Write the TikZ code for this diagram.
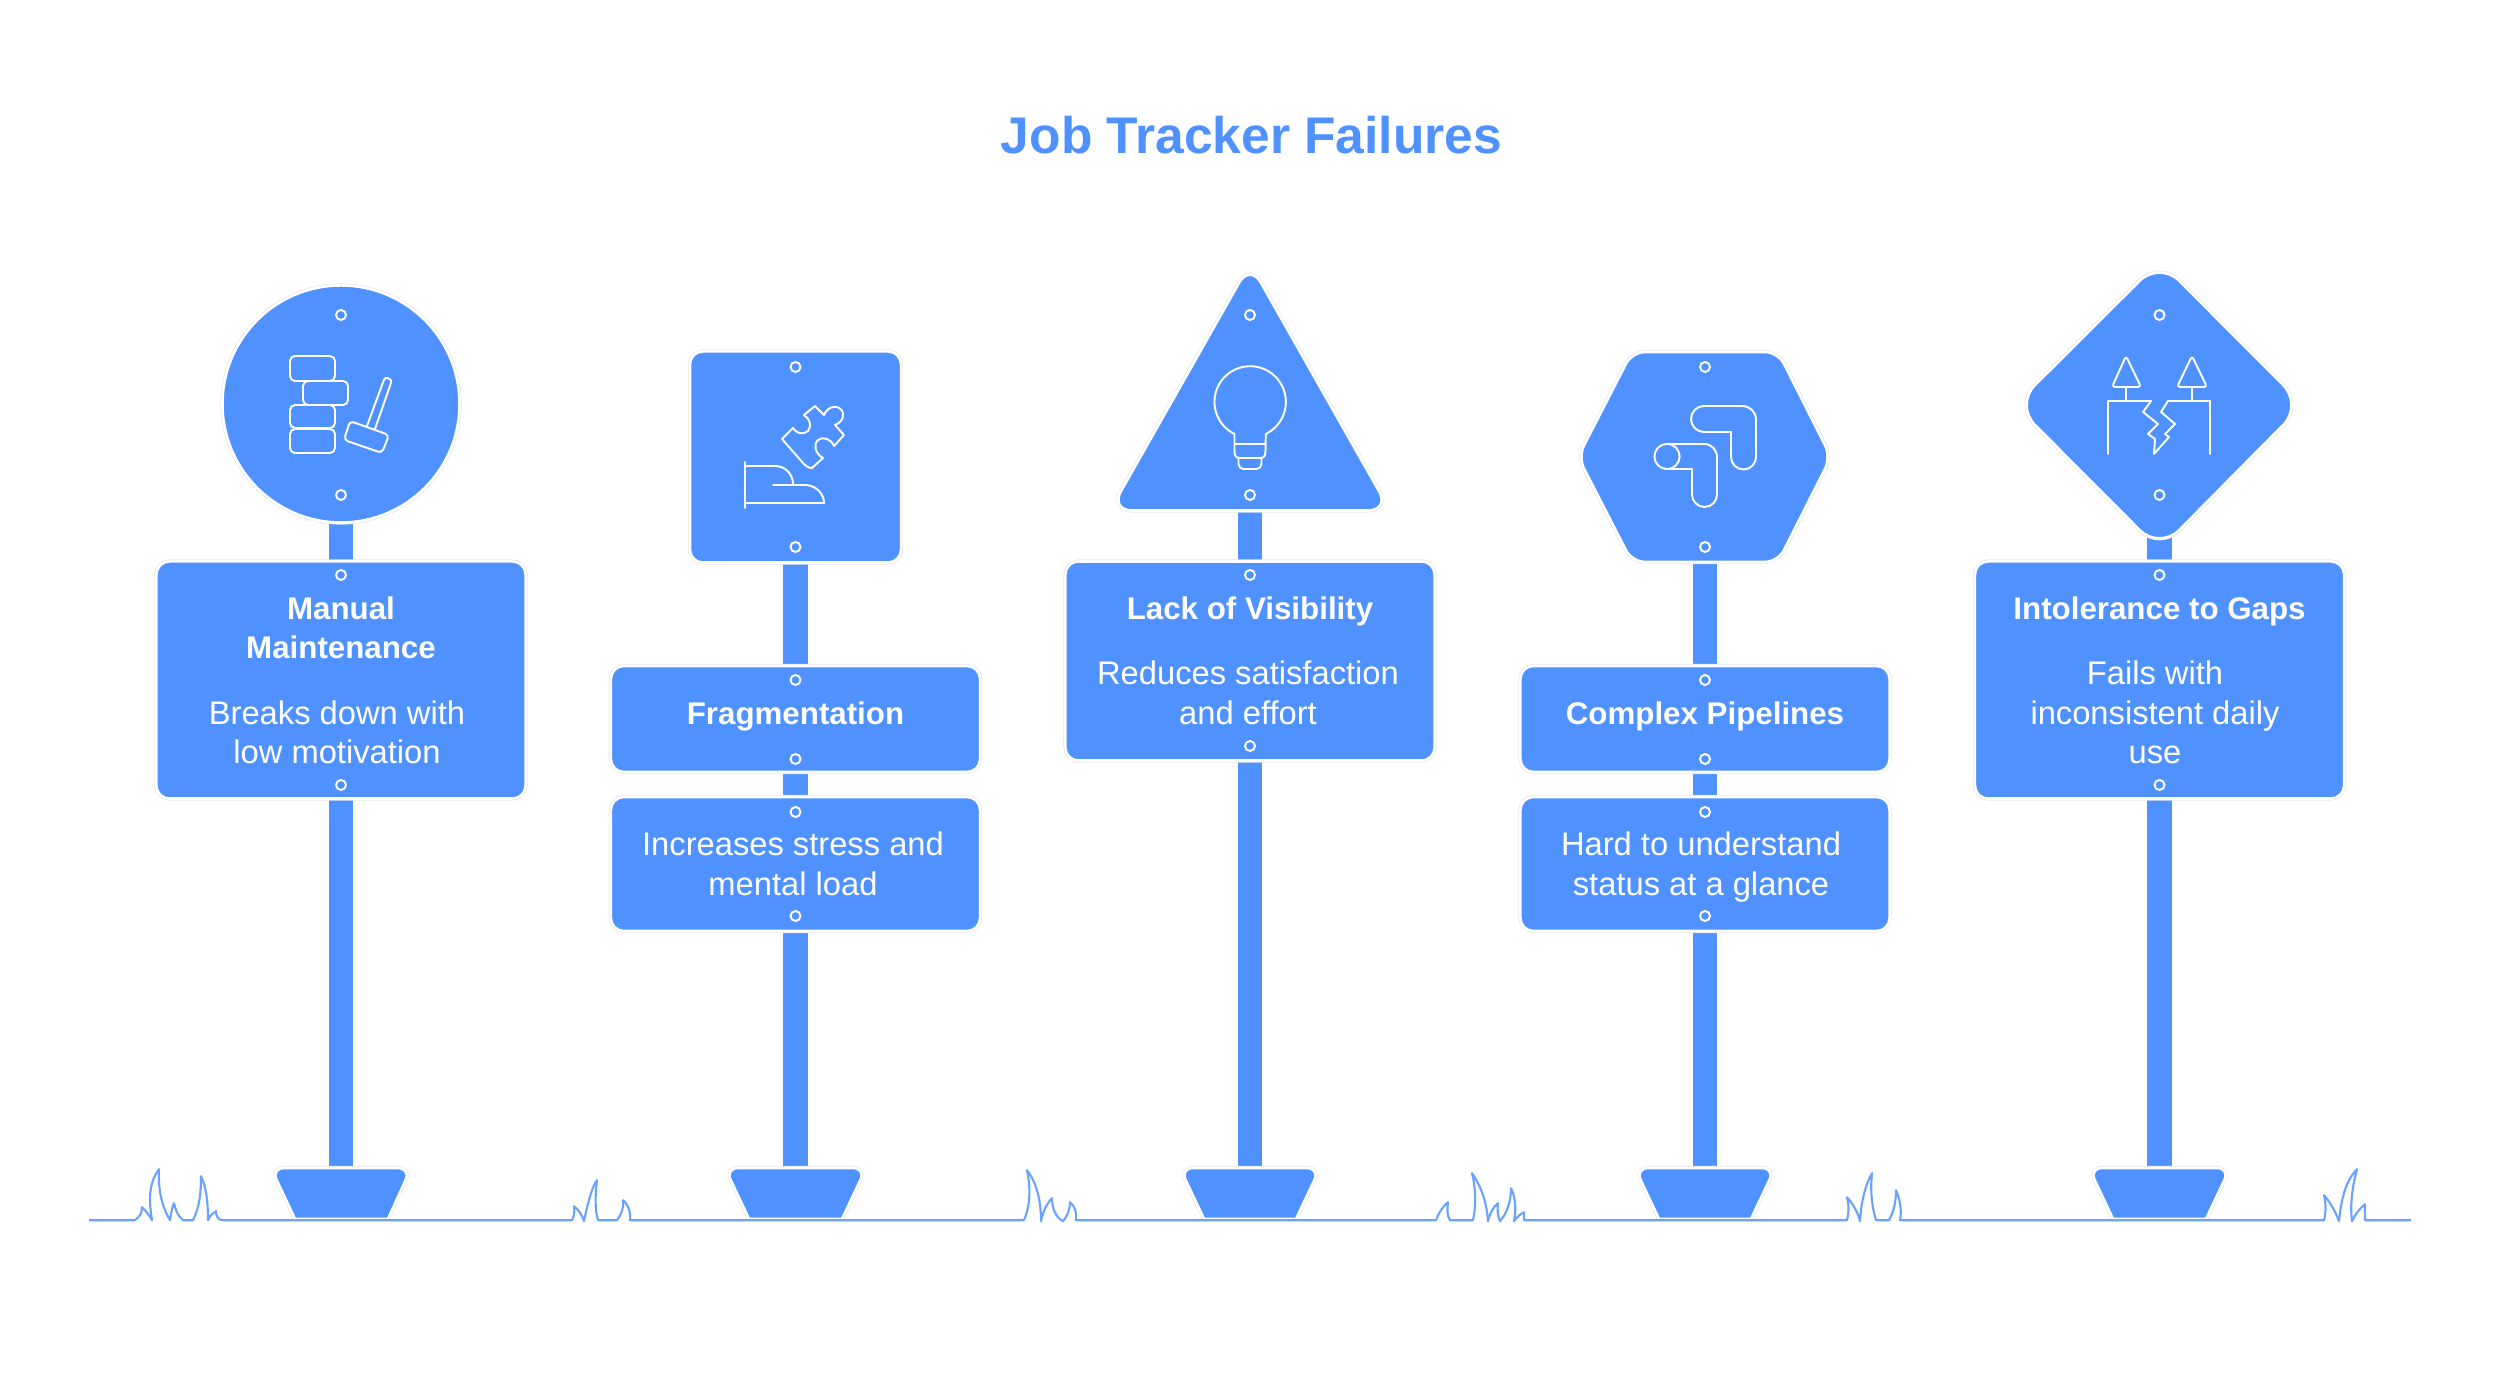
\documentclass[tikz,border=0pt]{standalone}
\usepackage{tkz-euclide}
\usepackage{tikz}
\usepackage{fontspec}
\setmainfont{Liberation Sans}
\definecolor{signblue}{HTML}{4F92FF}
\definecolor{signedge}{HTML}{E4E7EB}
\tikzset{
  sign/.style={fill=signblue,draw=white,line width=0.75pt,rounded corners=0.13cm,
    preaction={draw=signedge,line width=1.15pt}},
  panel/.style={sign,rectangle,inner sep=0pt,outer sep=0pt,minimum width=3.69cm},
  postline/.style={draw=white,line width=0.6pt,double=signblue,double distance=0.245cm,
    preaction={draw=signedge,line width=8.1pt}},
  hole/.style={circle,draw=white,fill=signblue,line width=0.55pt,inner sep=0pt,minimum size=0.1cm},
  icon/.style={draw=white,line width=0.55pt,line join=round,line cap=round},
  ground/.style={draw=signblue!85!white,line width=0.6pt,line join=round},
  headtext/.style={text=white,anchor=base,align=center,font=\bfseries\fontsize{8.9}{11.24}\selectfont},
  bodytext/.style={text=white,anchor=base,align=center,font=\fontsize{9.3}{11.24}\selectfont}
}
\begin{document}
\begin{tikzpicture}[x=0.01cm,y=-0.01cm]
    \useasboundingbox (0,0) rectangle (2500,1377);
    \tkzDefPoints{341/404/PA,341/1168/QA,795.5/456/PB,795.5/1168/QB,1250/420/PC,1250/1168/QC,1705/456/PD,1705/1168/QD,2159.5/404/PE,2159.5/1168/QE}
    \tkzDefPoints{1250/263.5/Ta,1110/510.5/Tb,1390/510.5/Tc}
    \tkzDefPoints{1632/352/Ha,1778/352/Hb,1831/457/Hc,1778/562/Hd,1632/562/He,1578/457/Hf}
    \tkzDefPoints{2159.5/261/Da,2303/405/Db,2159.5/550/Dc,2015/405/Dd}

    \node[text=signblue,anchor=base,font=\bfseries\fontsize{14.65}{18}\selectfont] (title) at (1251.5,154) {Job Tracker Failures};

    \tkzDrawSegments[postline](PA,QA PB,QB PC,QC PD,QD PE,QE)

    \draw[sign,rounded corners=0pt] (295,1219) [rounded corners=0.13cm] -- (271,1168) -- (411,1168) [rounded corners=0pt] -- (388,1219) -- cycle;
    \draw[sign,rounded corners=0pt] (749,1219) [rounded corners=0.13cm] -- (725,1168) -- (866,1168) [rounded corners=0pt] -- (842,1219) -- cycle;
    \draw[sign,rounded corners=0pt] (1204,1219) [rounded corners=0.13cm] -- (1180,1168) -- (1320,1168) [rounded corners=0pt] -- (1296,1219) -- cycle;
    \draw[sign,rounded corners=0pt] (1659,1219) [rounded corners=0.13cm] -- (1635,1168) -- (1775,1168) [rounded corners=0pt] -- (1751,1219) -- cycle;
    \draw[sign,rounded corners=0pt] (2113,1219) [rounded corners=0.13cm] -- (2089,1168) -- (2230,1168) [rounded corners=0pt] -- (2206,1219) -- cycle;

    \draw[ground,yshift=-0.012cm] (89,1219) -- (135,1219) .. controls (140,1215) and (142,1212) .. (142,1206)
      .. controls (146,1210) and (150,1215) .. (152,1219) .. controls (148,1195) and (150,1180) .. (159,1168)
      .. controls (158,1190) and (162,1205) .. (170,1219) .. controls (171,1212) and (172,1206) .. (174,1202)
      .. controls (176,1210) and (178,1215) .. (183,1219) -- (193,1219) .. controls (200,1205) and (201,1190) .. (201,1175)
      .. controls (206,1185) and (208,1200) .. (208,1219) .. controls (210,1214) and (213,1212) .. (216,1210)
      .. controls (216,1215) and (218,1219) .. (223,1219) -- (572,1219) .. controls (574,1215) and (575,1210) .. (574,1205)
      .. controls (579,1209) and (582,1214) .. (584,1220) .. controls (587,1205) and (592,1185) .. (597,1179)
      .. controls (595,1195) and (595,1210) .. (598,1219) -- (617,1219) .. controls (622,1212) and (624,1206) .. (623,1199)
      .. controls (629,1204) and (631,1212) .. (630,1219) -- (1024,1219) .. controls (1030,1205) and (1031,1188) .. (1027,1169)
      .. controls (1037,1182) and (1041,1200) .. (1041,1220) .. controls (1043,1210) and (1047,1202) .. (1052,1197)
      .. controls (1052,1208) and (1056,1216) .. (1063,1220) .. controls (1067,1216) and (1070,1208) .. (1070,1201)
      .. controls (1075,1205) and (1077,1212) .. (1076,1219) -- (1436,1219) .. controls (1439,1211) and (1443,1205) .. (1448,1201)
      .. controls (1447,1208) and (1447,1215) .. (1450,1219) -- (1473,1219) .. controls (1476,1205) and (1476,1188) .. (1472,1172)
      .. controls (1483,1188) and (1487,1205) .. (1488,1220) .. controls (1490,1212) and (1493,1206) .. (1498,1202)
      .. controls (1497,1210) and (1498,1216) .. (1500,1220) .. controls (1507,1212) and (1511,1200) .. (1511,1187)
      .. controls (1516,1197) and (1516,1210) .. (1514,1220) .. controls (1517,1216) and (1520,1213) .. (1524,1211)
      -- (1524,1219) -- (1847,1219) .. controls (1849,1212) and (1849,1204) .. (1847,1196)
      .. controls (1854,1204) and (1858,1212) .. (1860,1220) .. controls (1861,1202) and (1865,1184) .. (1872,1172)
      .. controls (1870,1190) and (1872,1206) .. (1876,1219) -- (1889,1219) .. controls (1894,1210) and (1896,1200) .. (1896,1189)
      .. controls (1900,1198) and (1902,1210) .. (1900,1219) -- (2324,1219) .. controls (2326,1212) and (2326,1202) .. (2324,1194)
      .. controls (2331,1202) and (2336,1212) .. (2339,1220) .. controls (2341,1200) and (2345,1180) .. (2357,1168)
      .. controls (2352,1186) and (2350,1205) .. (2352,1220) .. controls (2355,1213) and (2360,1207) .. (2365,1203)
      -- (2365,1219) -- (2411,1219);

    \node[sign,circle,inner sep=0pt,minimum size=2.37cm] (circlesign) at (341,404) {};
    \node[panel,minimum height=2.37cm] (manualpanel) at (341,680) {};
    \node[headtext] (manualhead) at (341,659) {Manual\\Maintenance};
    \node[bodytext] (manualbody) at (337,764) {Breaks down with\\low motivation};
    \node[hole] (hA1) at (341,315) {}; \node[hole] (hA2) at (341,495) {};
    \node[hole] (hA3) at (341,575) {}; \node[hole] (hA4) at (341,785) {};
    \draw[icon,rounded corners=0.05cm] (290,356) rectangle (335,381);
    \draw[icon,rounded corners=0.05cm] (303,381) rectangle (348,405);
    \draw[icon,rounded corners=0.05cm] (290,405) rectangle (335,428);
    \draw[icon,rounded corners=0.05cm] (290,429) rectangle (335,453);
    \draw[icon,rounded corners=0.04cm] (350,421) -- (389,435) -- (382,453) -- (344,440) -- cycle;
    \draw[icon,rounded corners=0.03cm] (367,426) -- (385,377) -- (392,380) -- (375,429);

    \node[sign,rectangle,inner sep=0pt,minimum width=2.11cm,minimum height=2.11cm] (squaresign) at (795.5,457) {};
    \node[panel,minimum height=1.06cm] (fraghead) at (795.5,719) {};
    \node[panel,minimum height=1.34cm] (fragbody) at (795.5,864) {};
    \node[headtext] (fragtitle) at (795.5,724.5) {Fragmentation};
    \node[bodytext] (fragtext) at (793,895.5) {Increases stress and\\mental load};
    \node[hole] (hB1) at (795.5,367) {}; \node[hole] (hB2) at (795.5,547) {};
    \node[hole] (hB3) at (795.5,680) {}; \node[hole] (hB4) at (795.5,759) {};
    \node[hole] (hB5) at (795.5,812) {}; \node[hole] (hB6) at (795.5,916) {};
    \draw[icon] (745,462) -- (745,508);
    \draw[icon] (745,466) -- (775,466) .. controls (785,466) and (793,474) .. (793,484);
    \draw[icon] (773,485) -- (805,485) .. controls (815,485) and (824,493) .. (824,503) -- (745,503);
    \draw[icon] (782,439) -- (793,428) .. controls (797,434) and (803,435) .. (808,431) .. controls (812,426) and (810,419) .. (804,415)
      -- (815,406) -- (824,415) .. controls (828,405) and (840,404) .. (843,413) .. controls (844,419) and (840,423) .. (835,425)
      -- (844,435) -- (834,446) .. controls (831,439) and (823,436) .. (818,440) .. controls (813,445) and (815,453) .. (823,458)
      -- (812,468) .. controls (808,468) and (806,466) .. (803,463) -- cycle;

    \draw[sign,rounded corners=0.22cm] (Ta) -- (Tb) -- (Tc) -- cycle;
    \node[panel,minimum height=1.99cm] (lackpanel) at (1250,661) {};
    \node[headtext] (lackhead) at (1250,619.5) {Lack of Visibility};
    \node[bodytext] (lackbody) at (1248,724.5) {Reduces satisfaction\\and effort};
    \node[hole] (hC1) at (1250,315) {}; \node[hole] (hC2) at (1250,495) {};
    \node[hole] (hC3) at (1250,575) {}; \node[hole] (hC4) at (1250,746) {};
    \draw[icon] (1234.5,434) arc[start angle=116,end angle=424,radius=35.7] -- (1265.5,451) .. controls (1265.5,456) and (1264,458) .. (1260,458) -- (1240,458) .. controls (1236,458) and (1234.5,456) .. (1234.5,451) -- cycle;
    \draw[icon] (1234.5,444) -- (1265.5,444);
    \draw[icon,rounded corners=0.05cm] (1238.5,458) -- (1238.5,469) -- (1261.5,469) -- (1261.5,458);

    \draw[sign] (Ha) -- (Hb) -- (Hc) -- (Hd) -- (He) -- (Hf) -- cycle;
    \node[panel,minimum height=1.06cm] (pipehead) at (1705,719) {};
    \node[panel,minimum height=1.34cm] (pipebody) at (1705,864) {};
    \node[headtext] (pipetitle) at (1705,724.5) {Complex Pipelines};
    \node[bodytext] (pipetext) at (1701,895.5) {Hard to understand\\status at a glance};
    \node[hole] (hD1) at (1705,367) {}; \node[hole] (hD2) at (1705,547) {};
    \node[hole] (hD3) at (1705,680) {}; \node[hole] (hD4) at (1705,759) {};
    \node[hole] (hD5) at (1705,812) {}; \node[hole] (hD6) at (1705,916) {};
    \draw[icon] (1704,406) -- (1742,406) .. controls (1750,406) and (1756,412) .. (1756,420) -- (1756,457) arc[start angle=0,end angle=180,radius=12.5] -- (1731,432) -- (1704,432) arc[start angle=90,end angle=270,radius=13] -- cycle;
    \draw[icon] (1667,444) -- (1704,444) .. controls (1712,444) and (1717,450) .. (1717,458) -- (1717,494.5) arc[start angle=0,end angle=180,radius=12.5] -- (1692,469) -- (1667,469);
    \draw[icon] (1667,456.5) circle[radius=12.6];

    \draw[sign,rounded corners=0.28cm] (Da) -- (Db) -- (Dc) -- (Dd) -- cycle;
    \node[panel,minimum height=2.37cm] (gapspanel) at (2159.5,680) {};
    \node[headtext] (gapshead) at (2159.5,619.5) {Intolerance to Gaps};
    \node[bodytext] (gapsbody) at (2155,764) {Fails with\\inconsistent daily\\use};
    \node[hole] (hE1) at (2159.5,315) {}; \node[hole] (hE2) at (2159.5,495) {};
    \node[hole] (hE3) at (2159.5,575) {}; \node[hole] (hE4) at (2159.5,785) {};
    \draw[icon,rounded corners=0.03cm] (2126,356) -- (2141,387) -- (2112,387) -- cycle;
    \draw[icon,rounded corners=0.03cm] (2192,356) -- (2207,387) -- (2177,387) -- cycle;
    \draw[icon] (2126,387) -- (2126,400);
    \draw[icon] (2192,387) -- (2192,400);
    \draw[icon] (2108,454) -- (2108,401) -- (2151,401) -- (2143,412) -- (2158,424) -- (2148,434) -- (2155,439) -- (2154,454) -- (2169,437) -- (2165,434) -- (2175,424) -- (2161,412) -- (2168,401) -- (2210,401) -- (2210,454);
\end{tikzpicture}
\end{document}
